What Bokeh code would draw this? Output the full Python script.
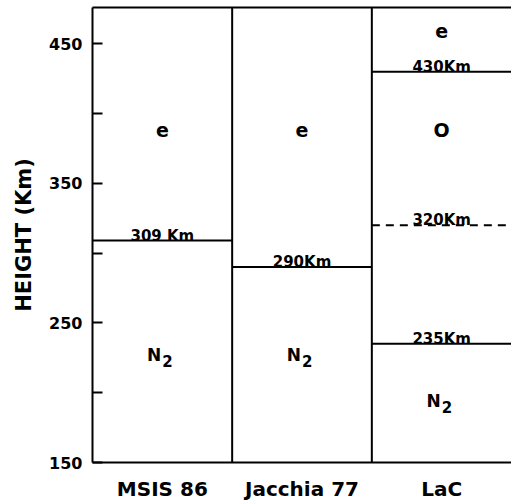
from bokeh.plotting import figure
from bokeh.models import ColumnDataSource, FixedTicker, LinearAxis, Range1d
from bokeh.core.properties import value
from bokeh.embed import file_html
from bokeh.resources import INLINE

# Atmospheric models compared (one column each)
models = ["MSIS 86", "Jacchia 77", "LaC"]

# Transition heights (km) between dominant species, per model column
boundary_model = [0, 1, 2, 2, 2]
boundary_km = [309, 290, 235, 320, 430]
boundary_dash = ["solid", "solid", "solid", "dashed", "solid"]
boundary_label = ["309 Km", "290Km", "235Km", "320Km", "430Km"]

# Dominant species in each layer (symbol, subscript) and the height of its label
species_model = [0, 0, 1, 1, 2, 2, 2]
species_symbol = ["e", "N", "e", "N", "e", "O", "N"]
species_sub = ["", "2", "", "2", "", "", "2"]
species_km = [388, 227, 388, 227, 459, 388, 194]

# Height axis
y_min, y_max = 150, 476
height_ticks = [150, 200, 250, 300, 350, 400, 450]
height_labels = {150: "150", 250: "250", 350: "350", 450: "450",
                 200: "", 300: "", 400: ""}

FONT = "DejaVu Sans"

p = figure(width=511, height=503, output_backend="svg", toolbar_location=None,
           x_range=Range1d(0, len(models)), y_range=Range1d(y_min, y_max),
           min_border_left=92, min_border_right=0, min_border_top=7,
           min_border_bottom=39)
p.grid.visible = False
p.outline_line_color = None
p.background_fill_color = "white"
p.border_fill_color = "white"

# Left axis: inward ticks every 50 km, labels every 100 km
ya = p.yaxis[0]
ya.ticker = FixedTicker(ticks=height_ticks)
ya.major_label_overrides = height_labels
ya.minor_tick_line_color = None
ya.major_tick_in = 10
ya.major_tick_out = 0
ya.major_tick_line_width = 2
ya.major_tick_line_color = "black"
ya.axis_line_width = 2
ya.axis_line_color = "black"
ya.major_label_standoff = 10
ya.major_label_text_font = FONT
ya.major_label_text_font_style = "bold"
ya.major_label_text_font_size = "16px"
ya.major_label_text_color = "black"
ya.axis_label = "HEIGHT (Km)"
ya.axis_label_text_font = FONT
ya.axis_label_text_font_style = "bold"
ya.axis_label_text_font_size = "21px"
ya.axis_label_text_color = "black"
ya.axis_label_standoff = 10

# Bottom axis: model names under each column
xa = p.xaxis[0]
xa.ticker = FixedTicker(ticks=[i + 0.5 for i in range(len(models))])
xa.major_label_overrides = {i + 0.5: m for i, m in enumerate(models)}
xa.major_tick_in = 0
xa.major_tick_out = 0
xa.minor_tick_line_color = None
xa.axis_line_width = 2
xa.axis_line_color = "black"
xa.major_label_standoff = 14
xa.major_label_text_font = FONT
xa.major_label_text_font_style = "bold"
xa.major_label_text_font_size = "20px"
xa.major_label_text_color = "black"

# Top frame line
top = LinearAxis(ticker=FixedTicker(ticks=[]), axis_line_width=2,
                 axis_line_color="black",
                 major_tick_out=0, major_tick_in=0, minor_tick_line_color=None,
                 major_label_text_font_size="0px", major_label_standoff=0)
p.add_layout(top, "above")

# Column dividers
p.segment(x0=[1, 2], y0=[y_min, y_min], x1=[1, 2], y1=[y_max, y_max],
          line_color="black", line_width=2)

# Species boundaries with their height labels
for style in ("solid", "dashed"):
    idx = [i for i, d in enumerate(boundary_dash) if d == style]
    src = ColumnDataSource(dict(
        x0=[boundary_model[i] for i in idx],
        x1=[boundary_model[i] + 1 for i in idx],
        y=[boundary_km[i] for i in idx],
        xc=[boundary_model[i] + 0.5 for i in idx],
        label=[boundary_label[i] for i in idx],
    ))
    p.segment(x0="x0", y0="y", x1="x1", y1="y", source=src,
              line_color="black", line_width=2,
              line_dash="8 6" if style == "dashed" else "solid")
    p.text(x="xc", y="y", text="label", source=src, y_offset=-5,
           text_align="center", text_baseline="alphabetic",
           text_font=value(FONT), text_font_style="bold",
           text_font_size="15px", text_color="black")

# Species names in each layer; subscripted ones are split into symbol + index
plain = [i for i, s in enumerate(species_sub) if s == ""]
subbed = [i for i, s in enumerate(species_sub) if s != ""]

plain_src = ColumnDataSource(dict(
    x=[species_model[i] + 0.5 for i in plain],
    y=[species_km[i] for i in plain],
    t=[species_symbol[i] for i in plain],
))
p.text(x="x", y="y", text="t", source=plain_src,
       text_align="center", text_baseline="middle",
       text_font=value(FONT), text_font_style="bold",
       text_font_size="19px", text_color="black")

sub_src = ColumnDataSource(dict(
    x=[species_model[i] + 0.5 for i in subbed],
    y=[species_km[i] for i in subbed],
    t=[species_symbol[i] for i in subbed],
    s=[species_sub[i] for i in subbed],
))
p.text(x="x", y="y", text="t", source=sub_src, x_offset=-1,
       text_align="right", text_baseline="middle",
       text_font=value(FONT), text_font_style="bold",
       text_font_size="17px", text_color="black")
p.text(x="x", y="y", text="s", source=sub_src, x_offset=0, y_offset=6,
       text_align="left", text_baseline="middle",
       text_font=value(FONT), text_font_style="bold",
       text_font_size="15px", text_color="black")

open("out.html", "w").write(file_html(p, INLINE))
